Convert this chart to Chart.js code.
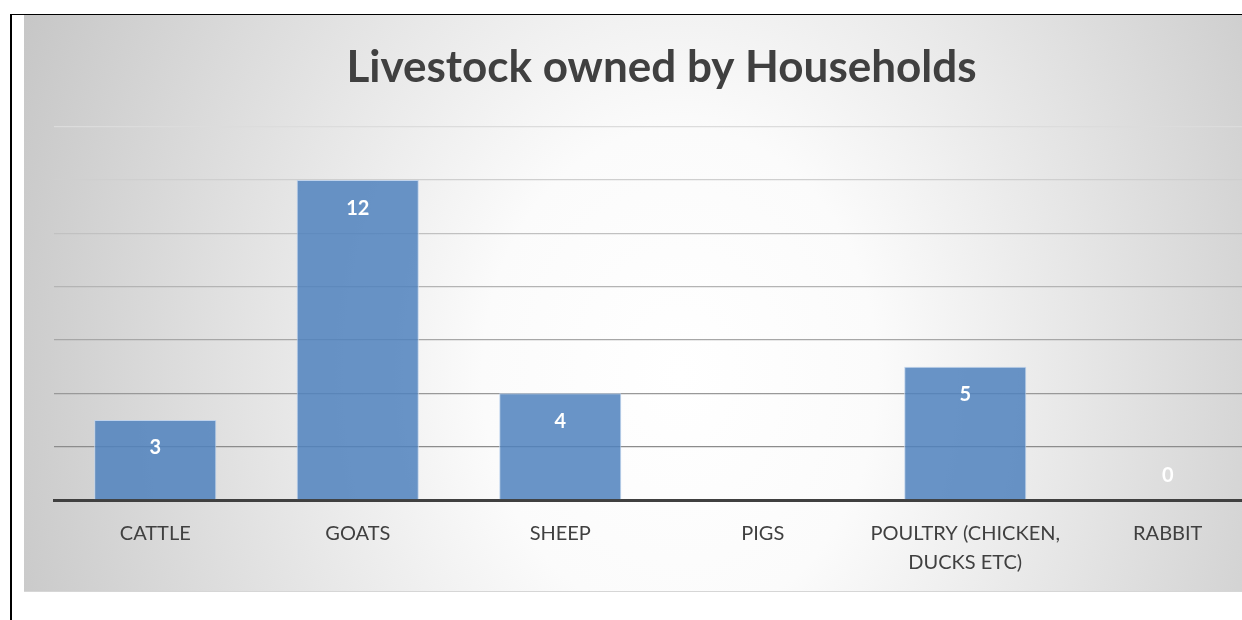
<!DOCTYPE html>
<html>
<head>
<meta charset="utf-8">
<title>Livestock owned by Households</title>
<script src="https://cdn.jsdelivr.net/npm/chart.js@4/dist/chart.umd.min.js"></script>
<style>
  html, body { margin: 0; padding: 0; background: #ffffff; overflow: hidden; width: 1242px; height: 620px; }
  .frame {
    position: absolute; left: 10px; top: 14px; width: 1400px; height: 700px;
    border-top: 1.5px solid #000; border-left: 2px solid #000;
  }
  .panel {
    position: absolute; left: 24px; top: 15px; width: 1275px; height: 576px;
    border-bottom: 1px solid #d6d6d6;
    background: radial-gradient(ellipse 760px 950px at 656px 360px,
      #ffffff 0%, #fbfbfb 26%, #e4e4e4 56%, #c2c2c2 100%);
  }
  .panel canvas { position: absolute; left: 0; top: 0; }
</style>
</head>
<body>
<div class="frame"></div>
<div class="panel"><canvas id="chart" width="1275" height="581"></canvas></div>
<script>
// Households owning each kind of livestock
const categories = ['CATTLE', 'GOATS', 'SHEEP', 'PIGS', ['POULTRY (CHICKEN,', 'DUCKS ETC)'], 'RABBIT'];
const households = [3, 12, 4, null, 5, 0];
const yTicks = [0, 2, 4, 6, 8, 10, 12, 14];

const FONT = "Lato, 'Open Sans', 'DejaVu Sans', sans-serif";

// gridlines fade from light at the top to darker near the base
function gridShade(value) {
  if (value === 0) return 'rgba(0,0,0,0)';
  const t = (value - yTicks[1]) / (yTicks[yTicks.length - 1] - yTicks[1]);
  const c = Math.round(0x8c + (0xdc - 0x8c) * t);
  return `rgb(${c},${c},${c})`;
}

// value labels inside the top of each bar (just above the base for zero)
const valueLabels = {
  id: 'valueLabels',
  afterDatasetsDraw(chart) {
    const ctx = chart.ctx;
    const meta = chart.getDatasetMeta(0);
    ctx.save();
    ctx.font = `bold 20px ${FONT}`;
    ctx.fillStyle = '#ffffff';
    ctx.textAlign = 'center';
    ctx.textBaseline = 'middle';
    meta.data.forEach((bar, i) => {
      const v = households[i];
      if (v === null || v === undefined) return;
      const y = v === 0 ? bar.y - 24 : bar.y + 28;
      ctx.fillText(String(v), bar.x, y);
    });
    ctx.restore();
  }
};

new Chart(document.getElementById('chart'), {
  type: 'bar',
  data: {
    labels: categories,
    datasets: [{
      data: households,
      backgroundColor: 'rgba(79,129,189,0.85)',
      borderColor: 'rgba(190,210,236,0.95)',
      borderWidth: 1,
      categoryPercentage: 1,
      barPercentage: 0.603
    }]
  },
  options: {
    responsive: false,
    animation: false,
    devicePixelRatio: 1,
    layout: { padding: { left: 30, right: 30, top: 0, bottom: 0 } },
    plugins: {
      legend: { display: false },
      tooltip: { enabled: false },
      title: {
        display: true,
        text: 'Livestock owned by Households',
        color: '#404040',
        font: { family: FONT, size: 44, weight: 'bold', lineHeight: 1.2 },
        padding: { top: 26, bottom: 33 }
      }
    },
    scales: {
      x: {
        grid: { display: false, drawTicks: false },
        border: { display: true, color: '#404040', width: 3 },
        ticks: {
          color: '#404040',
          font: { family: FONT, size: 20, lineHeight: 1.45 },
          padding: 19,
          maxRotation: 0,
          autoSkip: false
        }
      },
      y: {
        min: 0,
        max: 14,
        afterBuildTicks(axis) { axis.ticks = yTicks.map(v => ({ value: v })); },
        grid: {
          drawTicks: false,
          lineWidth: 1.3,
          color: ctx => gridShade(ctx.tick ? ctx.tick.value : 0)
        },
        border: { display: false },
        ticks: { display: false }
      }
    }
  },
  plugins: [valueLabels]
});
</script>
</body>
</html>
